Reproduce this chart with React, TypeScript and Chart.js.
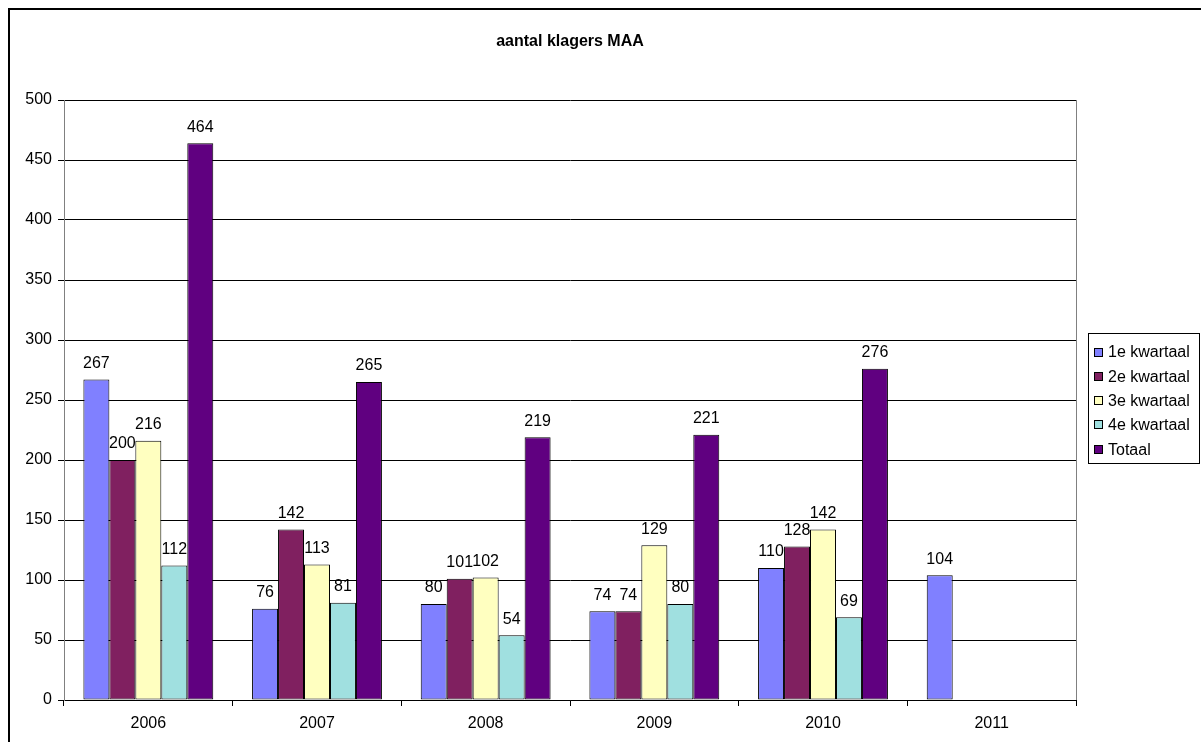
import React, { useEffect, useRef } from "react";
import { Chart, registerables } from "chart.js";

Chart.register(...registerables);

const title = "aantal klagers MAA";
const categories = ["2006", "2007", "2008", "2009", "2010", "2011"];
const seriesNames = ["1e kwartaal", "2e kwartaal", "3e kwartaal", "4e kwartaal", "Totaal"];
const q1 = [267, 76, 80, 74, 110, 104];
const q2 = [200, 142, 101, 74, 128, null];
const q3 = [216, 113, 102, 129, 142, null];
const q4 = [112, 81, 54, 80, 69, null];
const totaal = [464, 265, 219, 221, 276, null];
const colors = ["#8080FF", "#802060", "#FFFFC0", "#A0E0E0", "#600080"];
const yTicks = [0, 50, 100, 150, 200, 250, 300, 350, 400, 450, 500];

const FONT = "'Liberation Sans', Arial, sans-serif";

export default function App() {
  const ref = useRef<HTMLCanvasElement | null>(null);

  useEffect(() => {
    document.body.style.margin = "0";
    const canvas = ref.current;
    if (!canvas) return;
    const values = [q1, q2, q3, q4, totaal];

    const decor = {
      id: "decor",
      afterDraw(chart: any) {
        const ctx = chart.ctx;
        const area = chart.chartArea;
        ctx.save();
        // outer frame
        ctx.fillStyle = "#000";
        ctx.fillRect(8, 8, 2, 742);
        ctx.fillRect(8, 8, 1201, 2);
        // plot area right border
        ctx.strokeStyle = "#808080";
        ctx.lineWidth = 1;
        ctx.beginPath();
        ctx.moveTo(Math.round(area.right) + 0.5, area.top);
        ctx.lineTo(Math.round(area.right) + 0.5, area.bottom);
        ctx.stroke();
        // title
        ctx.fillStyle = "#000";
        ctx.font = `bold 16px ${FONT}`;
        ctx.textAlign = "center";
        ctx.textBaseline = "middle";
        ctx.fillText(title, (area.left + area.right) / 2, 42);
        // data labels
        ctx.font = `16px ${FONT}`;
        ctx.textBaseline = "bottom";
        chart.data.datasets.forEach((ds: any, di: number) => {
          const meta = chart.getDatasetMeta(di);
          meta.data.forEach((bar: any, i: number) => {
            const v = ds.data[i];
            if (v === null || v === undefined) return;
            ctx.fillText(String(v), bar.x, bar.y - 8);
          });
        });
        // legend
        const lx = 1088, ly = 333, lw = 111, lh = 130;
        ctx.strokeStyle = "#000";
        ctx.strokeRect(lx + 0.5, ly + 0.5, lw, lh);
        ctx.textAlign = "left";
        ctx.textBaseline = "middle";
        seriesNames.forEach((name, i) => {
          const cy = 352 + i * 24.3;
          ctx.fillStyle = colors[i];
          ctx.fillRect(1094, Math.round(cy - 4.5), 9, 9);
          ctx.strokeStyle = "#000";
          ctx.strokeRect(1094.5, Math.round(cy - 4.5) + 0.5, 8, 8);
          ctx.fillStyle = "#000";
          ctx.fillText(name, 1108, cy + 1);
        });
        ctx.restore();
      },
    };

    const chart = new Chart(canvas, {
      type: "bar",
      data: {
        labels: categories,
        datasets: seriesNames.map((name, i) => ({
          label: name,
          data: values[i],
          backgroundColor: colors[i],
          borderColor: "#000",
          borderWidth: 1,
          borderSkipped: false,
          categoryPercentage: 0.77,
          barPercentage: 1.0,
        })),
      },
      options: {
        animation: false,
        responsive: false,
        devicePixelRatio: 1,
        layout: { padding: { left: 10, right: 125, top: 100, bottom: 0 } },
        plugins: { legend: { display: false }, title: { display: false }, tooltip: { enabled: false } },
        scales: {
          x: {
            offset: true,
            grid: {
              offset: true,
              drawOnChartArea: false,
              drawTicks: true,
              tickLength: 6,
              color: "#000",
            },
            border: { color: "#000", width: 1 },
            ticks: { color: "#000", font: { family: FONT, size: 16 }, padding: 8, maxRotation: 0 },
            afterFit: (s: any) => {
              s.height = 42;
            },
          },
          y: {
            min: 0,
            max: 500,
            afterBuildTicks: (s: any) => {
              s.ticks = yTicks.map((v) => ({ value: v }));
            },
            grid: { color: "#000", tickLength: 6, drawTicks: true },
            border: { color: "#808080", width: 1 },
            ticks: { color: "#000", font: { family: FONT, size: 16 }, padding: 6 },
            afterFit: (s: any) => {
              s.width = 54;
            },
          },
        },
      },
      plugins: [decor],
    });
    return () => chart.destroy();
  }, []);

  return (
    <div style={{ position: "fixed", left: 0, top: 0, width: 1201, height: 742, background: "#fff" }}>
      <canvas ref={ref} width={1201} height={742} style={{ width: 1201, height: 742, display: "block" }} />
    </div>
  );
}
